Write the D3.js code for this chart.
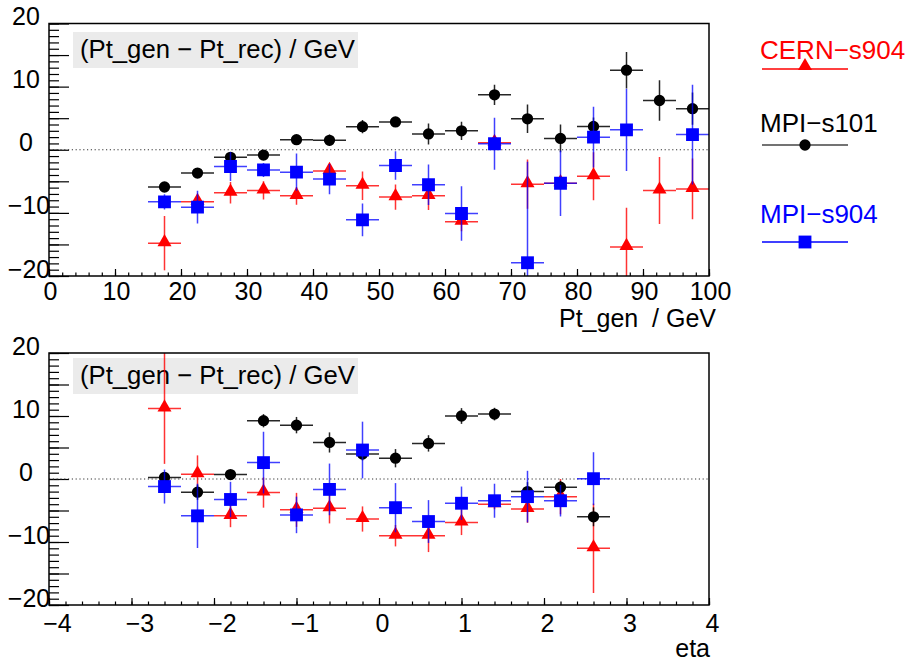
<!DOCTYPE html>
<html>
<head>
<meta charset="utf-8">
<script src="https://cdn.jsdelivr.net/npm/d3@7"></script>
<style>
  body { margin: 0; background: #fff; }
  svg { display: block; font-family: "Liberation Sans", Arial, sans-serif; }
</style>
</head>
<body>
<div id="chart"></div>
<script>
// Panel 1: bins in Pt_gen (GeV), width 5
const ptBins = [17.5, 22.5, 27.5, 32.5, 37.5, 42.5, 47.5, 52.5, 57.5, 62.5, 67.5, 72.5, 77.5, 82.5, 87.5, 92.5, 97.5];
const ptHalfWidth = 2.5;
const ptS101 = [-5.9, -3.7, -1.2, -0.85, 1.6, 1.5, 3.65, 4.4, 2.5, 3.0, 8.7, 4.9, 1.8, 3.7, 12.6, 7.8, 6.5];
const ptS101Err = [0.5, 0.5, 0.5, 0.5, 0.6, 0.9, 1.05, 0.8, 1.65, 1.45, 1.6, 2.25, 2.2, 1.4, 2.9, 3.2, 2.55];
const ptS904 = [-8.25, -9.1, -2.65, -3.2, -3.55, -4.65, -11.1, -2.5, -5.55, -10.1, 0.95, -17.9, -5.3, 2.0, 3.15, null, 2.4];
const ptS904Err = [1.2, 2.6, 2.3, 1.1, 2.95, 2.4, 2.6, 2.25, 3.2, 4.3, 4.1, 16, 5.2, 4.8, 6.5, null, 7.9];
const ptCern = [-14.8, -8.25, -6.8, -6.45, -7.3, -3.35, -5.7, -7.5, -7.3, -11.4, 1.1, -5.45, -5.3, -4.2, -15.4, -6.45, -6.2];
const ptCernErr = [4.3, 1.0, 1.7, 1.45, 1.4, 1.0, 2.25, 2.0, 2.25, 1.5, 0.6, 3.9, 1.0, 3.8, 6.2, 5.3, 4.8];

// Panel 2: bins in eta, width 0.4
const etaBins = [-2.6, -2.2, -1.8, -1.4, -1.0, -0.6, -0.2, 0.2, 0.6, 1.0, 1.4, 1.8, 2.2, 2.6];
const etaHalfWidth = 0.2;
const etaS101 = [0.25, -2.1, 0.7, 9.25, 8.55, 5.8, 3.95, 3.3, 5.65, 10.0, 10.3, -2.0, -1.3, -6.0];
const etaS101Err = [0.5, 1.2, 0.5, 1.05, 1.3, 1.6, 1.0, 1.45, 1.3, 1.25, 1.0, 1.5, 1.0, 1.5];
const etaS904 = [-1.2, -5.85, -3.25, 2.6, -5.7, -1.65, 4.6, -4.55, -6.75, -3.85, -3.45, -2.8, -3.45, 0.05];
const etaS904Err = [2.7, 5.1, 2.8, 4.9, 2.9, 4.1, 4.5, 3.9, 3.4, 2.65, 2.7, 4.1, 2.5, 4.2];
const etaCern = [11.2, 0.75, -5.85, -2.15, -4.9, -4.65, -6.35, -9.0, -9.0, -6.9, -4.0, -4.75, -2.8, -11.0];
const etaCernErr = [8.8, 3.0, 1.8, 2.4, 2.7, 2.4, 2.0, 1.7, 2.6, 2.0, 0.8, 2.2, 2.8, 7.1];

const yDomain = [-20, 20];
const yLabels = [-20, -10, 0, 10, 20];
const titleText = '(Pt_gen \u2212 Pt_rec) / GeV';

const legendNames = ['CERN\u2212s904', 'MPI\u2212s101', 'MPI\u2212s904'];

const RED = '#ff0000';
const BLUE = '#0000ff';
const BLACK = '#000000';

const W = 908, H = 662;
const svg = d3.select('#chart').append('svg').attr('width', W).attr('height', H);

// dibuja un panel con sus ejes, la caja del título y las tres series
const drawPanel = (p) => {
  const x = d3.scaleLinear().domain(p.xDomain).range([p.left, p.right]);
  const y = d3.scaleLinear().domain(yDomain).range([p.bottom, p.top]);
  const g = svg.append('g');

  const clipId = 'clip-' + p.id;
  g.append('clipPath').attr('id', clipId)
    .append('rect')
    .attr('x', p.left).attr('y', p.top)
    .attr('width', p.right - p.left).attr('height', p.bottom - p.top);

  // caja gris del título
  g.append('rect')
    .attr('x', p.left + 24).attr('y', p.boxY)
    .attr('width', 285).attr('height', 36)
    .attr('fill', '#ebebeb');
  g.append('text')
    .attr('x', p.left + 31).attr('y', p.boxY + 26)
    .style('font-size', '25.7px')
    .text(titleText);

  // eje x: marcas menores y mayores hacia dentro
  g.append('g')
    .attr('transform', `translate(0,${p.bottom})`)
    .call(d3.axisBottom(x).tickValues(p.xMinor).tickSize(-3.5).tickSizeOuter(0).tickFormat(''))
    .call((a) => a.select('.domain').remove());
  g.append('g')
    .attr('transform', `translate(0,${p.bottom})`)
    .call(d3.axisBottom(x).tickValues(p.xMajor).tickSize(-7).tickSizeOuter(0)
      .tickFormat((d) => (d < 0 ? '\u2212' + Math.abs(d) : d)))
    .call((a) => a.select('.domain').remove())
    .call((a) => a.selectAll('text')
      .attr('y', p.xLabelY).attr('dy', 0)
      .attr('dx', (d) => (d < 0 ? p.negDx : p.posDx))
      .style('font-size', '25px').attr('fill', BLACK));

  // eje y
  g.append('g')
    .attr('transform', `translate(${p.left},0)`)
    .call(d3.axisLeft(y).tickValues(d3.range(-20, 21, 1)).tickSize(-10).tickSizeOuter(0).tickFormat(''))
    .call((a) => a.select('.domain').remove());
  g.append('g')
    .attr('transform', `translate(${p.left},0)`)
    .call(d3.axisLeft(y).tickValues(d3.range(-20, 21, 5)).tickSize(-20).tickSizeOuter(0).tickFormat(''))
    .call((a) => a.select('.domain').remove());
  g.append('g')
    .selectAll('text')
    .data(yLabels)
    .enter()
    .append('text')
    .attr('x', (d) => (d < 0 ? 29 : 26))
    .attr('y', (d) => y(d) + 1.5)
    .attr('text-anchor', 'middle')
    .style('font-size', '25px')
    .text((d) => (d < 0 ? '\u2212' + Math.abs(d) : d));

  g.selectAll('.tick line').attr('stroke', BLACK).attr('stroke-width', 1.2);

  // línea punteada en cero
  g.append('line')
    .attr('x1', p.left).attr('x2', p.right)
    .attr('y1', y(0)).attr('y2', y(0))
    .attr('stroke', '#333').attr('stroke-width', 1)
    .attr('stroke-dasharray', '1.2,2.6');

  // series en el orden de la leyenda: rojo, negro y azul encima
  const plot = g.append('g').attr('clip-path', `url(#${clipId})`);
  p.series.forEach((s) => {
    const pts = p.bins
      .map((b, i) => ({ x: b, v: s.vals[i], e: s.errs[i] }))
      .filter((d) => d.v !== null);
    const sg = plot.append('g');
    sg.selectAll('.hbar').data(pts).enter().append('line')
      .attr('x1', (d) => x(d.x - p.half)).attr('x2', (d) => x(d.x + p.half))
      .attr('y1', (d) => y(d.v)).attr('y2', (d) => y(d.v))
      .attr('stroke', s.color).attr('stroke-width', 1.5).attr('stroke-opacity', s.lineOpacity);
    sg.selectAll('.vbar').data(pts).enter().append('line')
      .attr('x1', (d) => x(d.x)).attr('x2', (d) => x(d.x))
      .attr('y1', (d) => y(d.v - d.e)).attr('y2', (d) => y(d.v + d.e))
      .attr('stroke', s.color).attr('stroke-width', 1.5).attr('stroke-opacity', s.lineOpacity);
    sg.selectAll('.mark').data(pts).enter().append('path')
      .attr('d', d3.symbol(s.symbol, s.size))
      .attr('transform', (d) => `translate(${x(d.x)},${y(d.v) + s.shift})`)
      .attr('fill', s.color);
  });

  // marco
  g.append('rect')
    .attr('x', p.left).attr('y', p.top)
    .attr('width', p.right - p.left).attr('height', p.bottom - p.top)
    .attr('fill', 'none').attr('stroke', BLACK).attr('stroke-width', 1.5);

  // título del eje x
  g.append('text')
    .attr('x', p.right + p.titleDx).attr('y', p.bottom + p.titleDy)
    .attr('text-anchor', 'end')
    .style('font-size', '25px')
    .style('white-space', 'pre')
    .text(p.xTitle);
};

const makeSeries = (cern, cernErr, s101, s101Err, s904, s904Err) => [
  { vals: cern, errs: cernErr, color: RED, symbol: d3.symbolTriangle, size: 85, shift: -1, lineOpacity: 0.8 },
  { vals: s101, errs: s101Err, color: BLACK, symbol: d3.symbolCircle, size: 100, shift: 0, lineOpacity: 0.85 },
  { vals: s904, errs: s904Err, color: BLUE, symbol: d3.symbolSquare, size: 165, shift: 0, lineOpacity: 0.75 },
];

drawPanel({
  id: 'pt',
  left: 49, right: 709, top: 23.5, bottom: 276,
  xDomain: [0, 100],
  xMajor: d3.range(0, 101, 10),
  xMinor: d3.range(0, 101, 2),
  xLabelY: 24, posDx: 1, negDx: 1,
  boxY: 32,
  bins: ptBins, half: ptHalfWidth,
  series: makeSeries(ptCern, ptCernErr, ptS101, ptS101Err, ptS904, ptS904Err),
  xTitle: 'Pt_gen  / GeV', titleDx: 7, titleDy: 51,
});

drawPanel({
  id: 'eta',
  left: 49, right: 709, top: 353, bottom: 605,
  xDomain: [-4, 4],
  xMajor: d3.range(-4, 4.01, 1),
  xMinor: d3.range(-40, 41, 2).map((d) => d / 10),
  xLabelY: 27, posDx: 3, negDx: 8,
  boxY: 358,
  bins: etaBins, half: etaHalfWidth,
  series: makeSeries(etaCern, etaCernErr, etaS101, etaS101Err, etaS904, etaS904Err),
  xTitle: 'eta', titleDx: 1, titleDy: 52,
});

// leyenda
const legendColors = [RED, BLACK, BLUE];
const legendLineColors = [RED, '#444', BLUE];
const legendSymbols = [d3.symbolTriangle, d3.symbolCircle, d3.symbolSquare];
const legendSizes = [85, 100, 165];
const legendTextY = [59, 132, 223];
const legendLineY = [69, 145, 242];

const legend = svg.append('g');
legendNames.forEach((name, i) => {
  legend.append('text')
    .attr('x', 760).attr('y', legendTextY[i])
    .attr('fill', legendColors[i])
    .style('font-size', '26px')
    .text(name);
  legend.append('line')
    .attr('x1', 762).attr('x2', 848)
    .attr('y1', legendLineY[i]).attr('y2', legendLineY[i])
    .attr('stroke', legendLineColors[i]).attr('stroke-width', 1.5);
  legend.append('path')
    .attr('d', d3.symbol(legendSymbols[i], legendSizes[i]))
    .attr('transform', `translate(805,${legendLineY[i] + (i === 0 ? -3 : 0)})`)
    .attr('fill', legendColors[i]);
});
</script>
</body>
</html>
